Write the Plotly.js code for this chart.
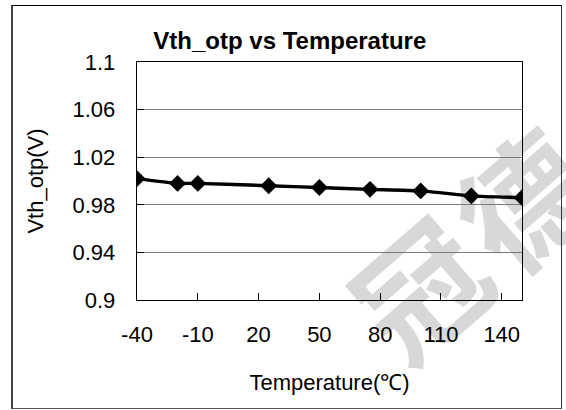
<!DOCTYPE html>
<html><head><meta charset="utf-8">
<script src="https://cdn.plot.ly/plotly-3.0.1.min.js"></script>
<style>
html,body{margin:0;padding:0;background:#fff;}
#wrap{position:relative;width:566px;height:410px;overflow:hidden;background:#fff;}
#frame{position:absolute;left:11px;top:5px;width:548px;height:402px;border-left:2px solid #444;border-top:1px solid #000;border-right:1px solid #333;border-bottom:1px solid #555;}
.wm{position:absolute;font-family:"Noto Sans CJK SC";font-weight:700;color:#d8d8d8;font-size:128px;line-height:1;transform:translate(-50%,-50%) rotate(-41deg);white-space:nowrap;}
#chart{position:absolute;left:0;top:0;width:566px;height:410px;}
</style></head>
<body>
<div id="wrap">
  <div class="wm" style="left:418px;top:286px;">冠</div>
  <div class="wm" style="left:522px;top:198px;">德</div>
  <div id="frame"></div>
  <div id="chart"></div>
</div>
<script>
const temperatures = [-40, -20, -10, 25, 50, 75, 100, 125, 150];
const vthOtp = [1.002, 0.998, 0.998, 0.996, 0.9945, 0.993, 0.9917, 0.9875, 0.986];
const xTickVals = [-40, -10, 20, 50, 80, 110, 140];
const xTickText = ["-40", "-10", "20", "50", "80", "110", "140"];
const yTickVals = [0.9, 0.94, 0.98, 1.02, 1.06, 1.1];
const yTickText = ["0.9", "0.94", "0.98", "1.02", "1.06", "1.1"];

const FONT = "Arial, 'Liberation Sans', sans-serif";

const trace = {
  x: temperatures,
  y: vthOtp,
  type: "scatter",
  mode: "lines+markers",
  line: {color: "#000", width: 3.4, shape: "spline", smoothing: 0.6},
  marker: {symbol: "diamond", size: 13, color: "#000"},
  hoverinfo: "skip"
};

const layout = {
  width: 566, height: 410,
  margin: {l: 137, r: 44, t: 62, b: 110},
  paper_bgcolor: "rgba(0,0,0,0)",
  plot_bgcolor: "rgba(0,0,0,0)",
  showlegend: false,
  font: {family: FONT, color: "#000", size: 22},
  title: {
    text: "<b>Vth_otp vs Temperature</b>",
    font: {family: FONT, size: 24, color: "#000"},
    x: 0.512, xref: "container", xanchor: "center",
    y: 0.902, yref: "container", yanchor: "middle"
  },
  xaxis: {
    range: [-40, 150],
    tickvals: xTickVals,
    ticktext: xTickText,
    ticks: "inside", ticklen: 7, tickcolor: "#000", tickwidth: 1,
    showgrid: false, zeroline: false,
    showline: true, linecolor: "#000", linewidth: 1.3, mirror: true,
    tickfont: {family: FONT, size: 22, color: "#000"},
    ticklabelstandoff: 14,
    title: {text: "Temperature(℃)", font: {family: FONT, size: 22, color: "#000"}, standoff: 29}
  },
  yaxis: {
    range: [0.9, 1.1],
    tickvals: yTickVals,
    ticktext: yTickText,
    ticks: "inside", ticklen: 7, tickcolor: "#000", tickwidth: 1,
    showgrid: true, gridcolor: "#7a7a7a", gridwidth: 1,
    zeroline: false,
    showline: true, linecolor: "#000", linewidth: 1.3, mirror: true,
    tickfont: {family: FONT, size: 22, color: "#000"},
    ticklabelstandoff: 16,
    title: {text: "Vth_otp(V)", font: {family: FONT, size: 22, color: "#000"}, standoff: 22}
  }
};

Plotly.newPlot("chart", [trace], layout, {staticPlot: true, displayModeBar: false});
</script>
</body></html>
